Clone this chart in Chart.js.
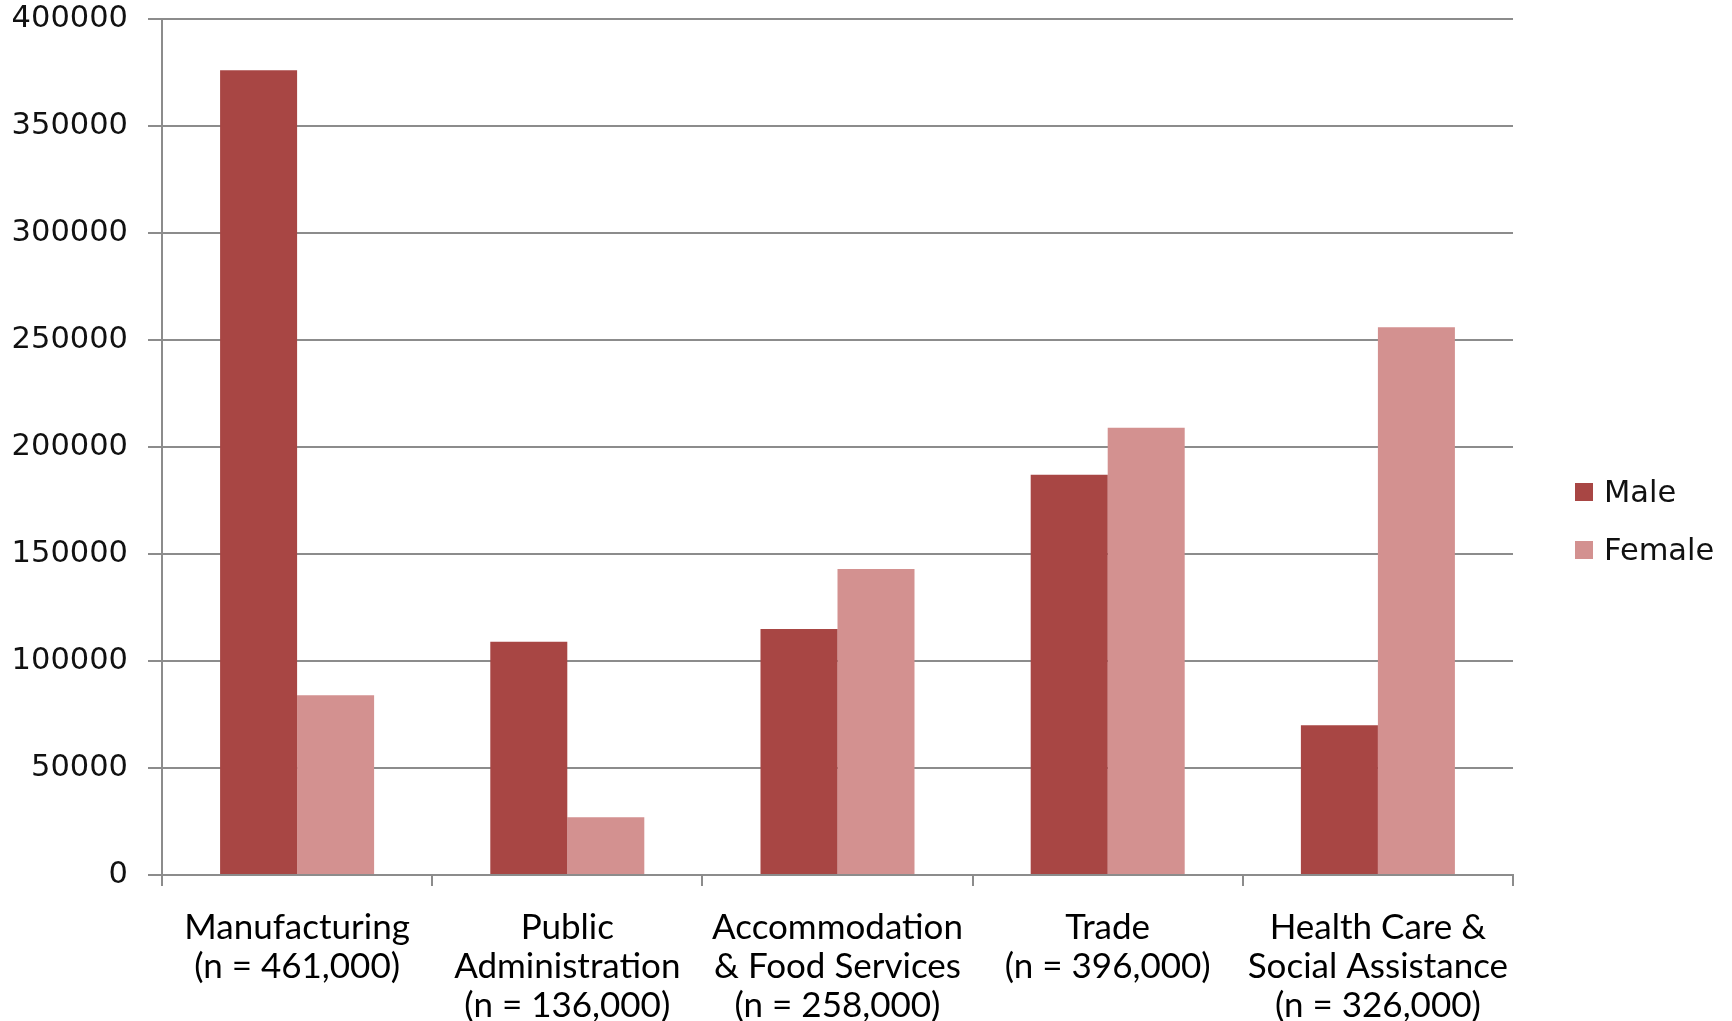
<!DOCTYPE html>
<html>
<head>
<meta charset="utf-8">
<script src="https://cdn.jsdelivr.net/npm/chart.js@4.4.1/dist/chart.umd.min.js"></script>
<style>
  html, body { margin: 0; padding: 0; background: #fff; }
  #wrap { position: relative; width: 1732px; height: 1021px; }
  #legenda { position: absolute; left: 1575px; top: 472px; font-family: "DejaVu Sans", sans-serif; font-size: 30.5px; color: #111; }
  #legenda div { height: 58px; line-height: 40px; white-space: nowrap; }
  #legenda span { display: inline-block; width: 18px; height: 18px; margin-right: 11px; vertical-align: 1px; }
</style>
</head>
<body>
<div id="wrap">
  <canvas id="grafico" width="1732" height="1021"></canvas>
  <div id="legenda"></div>
</div>
<script>
    // Dados
    const categorias = [
        ['Manufacturing', '(n = 461,000)'],
        ['Public', 'Administration', '(n = 136,000)'],
        ['Accommodation', '& Food Services', '(n = 258,000)'],
        ['Trade', '(n = 396,000)'],
        ['Health Care &', 'Social Assistance', '(n = 326,000)']
    ];
    const masculino = [376000, 109000, 115000, 187000, 70000];
    const feminino = [84000, 27000, 143000, 209000, 256000];
    const ticksY = [0, 50000, 100000, 150000, 200000, 250000, 300000, 350000, 400000];

    const series = [
        { label: 'Male', data: masculino, cor: '#A84644' },
        { label: 'Female', data: feminino, cor: '#D39190' }
    ];

    // Legenda em HTML
    const legenda = document.getElementById('legenda');
    series.forEach(s => {
        const item = document.createElement('div');
        item.innerHTML = `<span style="background:${s.cor}"></span>${s.label}`;
        legenda.appendChild(item);
    });

    const ctx = document.getElementById('grafico').getContext('2d');
    new Chart(ctx, {
        type: 'bar',
        data: {
            labels: categorias,
            datasets: series.map(s => ({
                label: s.label,
                data: s.data,
                backgroundColor: s.cor,
                borderWidth: 0,
                categoryPercentage: 0.57,
                barPercentage: 1.0
            }))
        },
        options: {
            responsive: false,
            animation: false,
            layout: { padding: { top: 19, right: 219, bottom: 0, left: 0 } },
            plugins: {
                legend: { display: false },
                tooltip: { enabled: false }
            },
            scales: {
                x: {
                    grid: { display: true, drawOnChartArea: false, drawTicks: true, tickLength: 11, color: '#8c8c8c', lineWidth: 2, offset: true },
                    border: { color: '#8c8c8c', width: 2 },
                    ticks: {
                        color: '#000',
                        padding: 22,
                        maxRotation: 0,
                        autoSkip: false,
                        font: { family: 'Lato', size: 35, lineHeight: 1.12 }
                    },
                    afterFit: (escala) => { escala.height = 146; }
                },
                y: {
                    min: 0,
                    max: 400000,
                    afterBuildTicks: (escala) => { escala.ticks = ticksY.map(v => ({ value: v })); },
                    grid: { color: '#8c8c8c', lineWidth: 2, tickLength: 14 },
                    border: { color: '#8c8c8c', width: 2 },
                    ticks: {
                        color: '#111',
                        padding: 20,
                        font: { family: 'DejaVu Sans', size: 30.5 },
                        callback: (valor) => String(valor)
                    },
                    afterFit: (escala) => {
                        escala.width = 162;
                        escala.paddingTop = 0;
                        escala.paddingBottom = 0;
                    }
                }
            }
        }
    });
</script>
</body>
</html>
